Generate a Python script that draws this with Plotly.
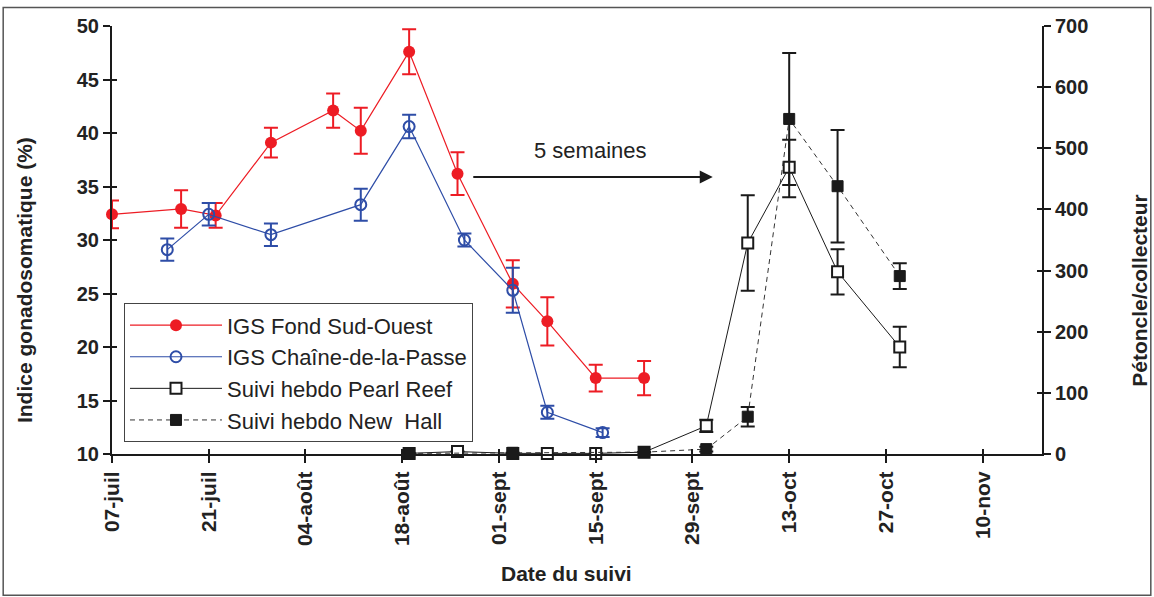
import plotly.graph_objects as go

# ---------------- data ----------------
red_dates = ["2008-07-07", "2008-07-17", "2008-07-22", "2008-07-30", "2008-08-08", "2008-08-12",
             "2008-08-19", "2008-08-26", "2008-09-03", "2008-09-08", "2008-09-15", "2008-09-22"]
red_vals = [32.4, 32.9, 32.3, 39.1, 42.1, 40.2, 47.6, 36.2, 25.9, 22.4, 17.1, 17.1]
red_err = [1.3, 1.75, 1.15, 1.4, 1.6, 2.15, 2.1, 2.0, 2.2, 2.25, 1.25, 1.6]

blue_dates = ["2008-07-15", "2008-07-21", "2008-07-30", "2008-08-12", "2008-08-19", "2008-08-27",
              "2008-09-03", "2008-09-08", "2008-09-16"]
blue_vals = [29.1, 32.4, 30.5, 33.3, 40.6, 30.0, 25.3, 13.9, 12.0]
blue_err = [1.05, 1.05, 1.05, 1.5, 1.1, 0.6, 2.1, 0.6, 0.4]

pr_dates = ["2008-08-19", "2008-08-26", "2008-09-03", "2008-09-08", "2008-09-15", "2008-09-22",
            "2008-10-01", "2008-10-07", "2008-10-13", "2008-10-20", "2008-10-29"]
pr_vals = [1, 4, 1, 1, 1, 3, 46, 345, 469, 298, 175]
pr_err_plus = [0, 0, 0, 0, 0, 0, 10, 78, 45, 37, 33]
pr_err_minus = [0, 0, 0, 0, 0, 0, 10, 78, 49, 37, 33]

nh_dates = ["2008-08-19", "2008-09-03", "2008-09-22", "2008-10-01", "2008-10-07", "2008-10-13",
            "2008-10-20", "2008-10-29"]
nh_vals = [1, 2, 3, 8, 61, 548, 438, 291]
nh_err = [0, 0, 0, 4, 16, 108, 92, 21]

tick_dates = ["2008-07-07", "2008-07-21", "2008-08-04", "2008-08-18", "2008-09-01",
              "2008-09-15", "2008-09-29", "2008-10-13", "2008-10-27", "2008-11-10"]
tick_labels = ["07-juil", "21-juil", "04-août", "18-août", "01-sept",
               "15-sept", "29-sept", "13-oct", "27-oct", "10-nov"]

series_names = ["IGS Fond Sud-Ouest", "IGS Chaîne-de-la-Passe",
                "Suivi hebdo Pearl Reef", "Suivi hebdo New  Hall"]

x_range = ["2008-07-07", "2008-11-18 14:00"]
left_range = [10, 50]
right_range = [0, 700]

# ---------------- styles ----------------
RED = "#ED1C24"
BLUE = "#2E4DA7"
BLACK = "#1a1a1a"
FONT = "Liberation Sans, Arial, sans-serif"

fig = go.Figure()

fig.add_trace(go.Scatter(
    x=red_dates, y=red_vals, name=series_names[0], mode="lines+markers",
    line=dict(color=RED, width=1.2),
    marker=dict(symbol="circle", size=12, color=RED),
    error_y=dict(type="data", array=red_err, color=RED, thickness=2, width=7),
    cliponaxis=False, yaxis="y"))

fig.add_trace(go.Scatter(
    x=blue_dates, y=blue_vals, name=series_names[1], mode="lines+markers",
    line=dict(color=BLUE, width=1.2),
    marker=dict(symbol="circle-open", size=11, color=BLUE, line=dict(width=2)),
    error_y=dict(type="data", array=blue_err, color=BLUE, thickness=2, width=7),
    cliponaxis=False, yaxis="y"))

fig.add_trace(go.Scatter(
    x=pr_dates, y=pr_vals, name=series_names[2], mode="lines+markers",
    line=dict(color=BLACK, width=1),
    marker=dict(symbol="square", size=11, color="white", line=dict(color=BLACK, width=2)),
    error_y=dict(type="data", array=pr_err_plus, arrayminus=pr_err_minus, color=BLACK,
                 thickness=2, width=7),
    cliponaxis=False, yaxis="y2"))

fig.add_trace(go.Scatter(
    x=nh_dates, y=nh_vals, name=series_names[3], mode="lines+markers",
    line=dict(color="#333333", width=1, dash="5px,4px"),
    marker=dict(symbol="square", size=11, color=BLACK, line=dict(color=BLACK, width=1)),
    error_y=dict(type="data", array=nh_err, color=BLACK, thickness=2, width=7),
    cliponaxis=False, yaxis="y2"))

tickfont = dict(family=FONT, size=20, color="#222222", weight="bold")

fig.update_layout(
    width=1154, height=597,
    margin=dict(l=112, r=112, t=26, b=143),
    paper_bgcolor="white", plot_bgcolor="white",
    font=dict(family=FONT, color="#222222"),
    showlegend=True,
    legend=dict(
        x=0.0129, y=0.352, xanchor="left", yanchor="top",
        bgcolor="white", bordercolor="#444444", borderwidth=1,
        font=dict(family=FONT, size=22, color="#222222"),
        itemwidth=92, tracegroupgap=0,
    ),
    xaxis=dict(
        type="date", range=x_range, tickmode="array", tickvals=tick_dates, ticktext=tick_labels,
        tickangle=-90, tickfont=dict(family=FONT, size=21, color="#222222", weight="bold"),
        showgrid=False, zeroline=False, showline=True, linecolor=BLACK, linewidth=2,
        ticks="outside", ticklen=7, tickwidth=2, tickcolor=BLACK,
    ),
    xaxis2=dict(
        type="date", range=x_range, tickmode="array", tickvals=tick_dates,
        overlaying="x", anchor="y", side="bottom", showticklabels=False,
        showgrid=False, zeroline=False, showline=False,
        ticks="inside", ticklen=5, tickwidth=2, tickcolor=BLACK,
    ),
    yaxis=dict(
        range=left_range, dtick=5, tickfont=tickfont,
        showgrid=False, zeroline=False, showline=True, linecolor=BLACK, linewidth=2,
        ticks="outside", ticklen=7, tickwidth=2, tickcolor=BLACK,
    ),
    yaxis2=dict(
        range=right_range, dtick=100, tickfont=tickfont, overlaying="y", side="right",
        showgrid=False, zeroline=False, showline=True, linecolor=BLACK, linewidth=2,
        ticks="outside", ticklen=7, tickwidth=2, tickcolor=BLACK,
    ),
    yaxis3=dict(
        range=left_range, dtick=5, overlaying="y", side="left", anchor="x",
        showticklabels=False, showgrid=False, zeroline=False, showline=False,
        ticks="inside", ticklen=5, tickwidth=2, tickcolor=BLACK,
    ),
    yaxis4=dict(
        range=right_range, dtick=100, overlaying="y", side="right", anchor="x",
        showticklabels=False, showgrid=False, zeroline=False, showline=False,
        ticks="inside", ticklen=5, tickwidth=2, tickcolor=BLACK,
    ),
)

# invisible helper traces so the overlay tick axes are drawn
fig.add_trace(go.Scatter(x=[tick_dates[0]], y=[left_range[0]], xaxis="x2", yaxis="y3",
                         mode="markers", marker=dict(opacity=0), showlegend=False, hoverinfo="skip"))
fig.add_trace(go.Scatter(x=[tick_dates[0]], y=[right_range[0]], xaxis="x2", yaxis="y4",
                         mode="markers", marker=dict(opacity=0), showlegend=False, hoverinfo="skip"))

title_font = dict(family=FONT, size=21, color="#222222", weight="bold")
fig.add_annotation(text="Indice gonadosomatique (%)", xref="paper", yref="paper",
                   x=-0.0946, y=0.4065, xanchor="center", yanchor="middle",
                   textangle=-90, showarrow=False, font=title_font)
fig.add_annotation(text="Pétoncle/collecteur", xref="paper", yref="paper",
                   x=1.104, y=0.383, xanchor="center", yanchor="middle",
                   textangle=-90, showarrow=False, font=title_font)
fig.add_annotation(text="Date du suivi", xref="paper", yref="paper",
                   x=0.489, y=-0.280, xanchor="center", yanchor="middle",
                   showarrow=False, font=title_font)

# "5 semaines" label and arrow
fig.add_annotation(text="5 semaines", xref="paper", yref="paper",
                   x=0.515, y=0.710, xanchor="center", yanchor="middle",
                   showarrow=False, font=dict(family=FONT, size=22, color="#222222"))
fig.add_annotation(text="", xref="paper", yref="paper", x=0.646, y=0.647,
                   ax=-241, ay=0, showarrow=True, arrowhead=2, arrowsize=1.3,
                   arrowwidth=2, arrowcolor=BLACK, standoff=0, startstandoff=0)

# outer frame
fig.add_shape(type="rect", xref="paper", yref="paper",
              x0=-0.117, x1=1.117, y0=-0.330, y1=1.043,
              line=dict(color="#555555", width=1.5), fillcolor="rgba(0,0,0,0)", layer="below")

fig.write_html("out.html", config={"displayModeBar": False},
               post_script="document.body.style.margin='0';")
